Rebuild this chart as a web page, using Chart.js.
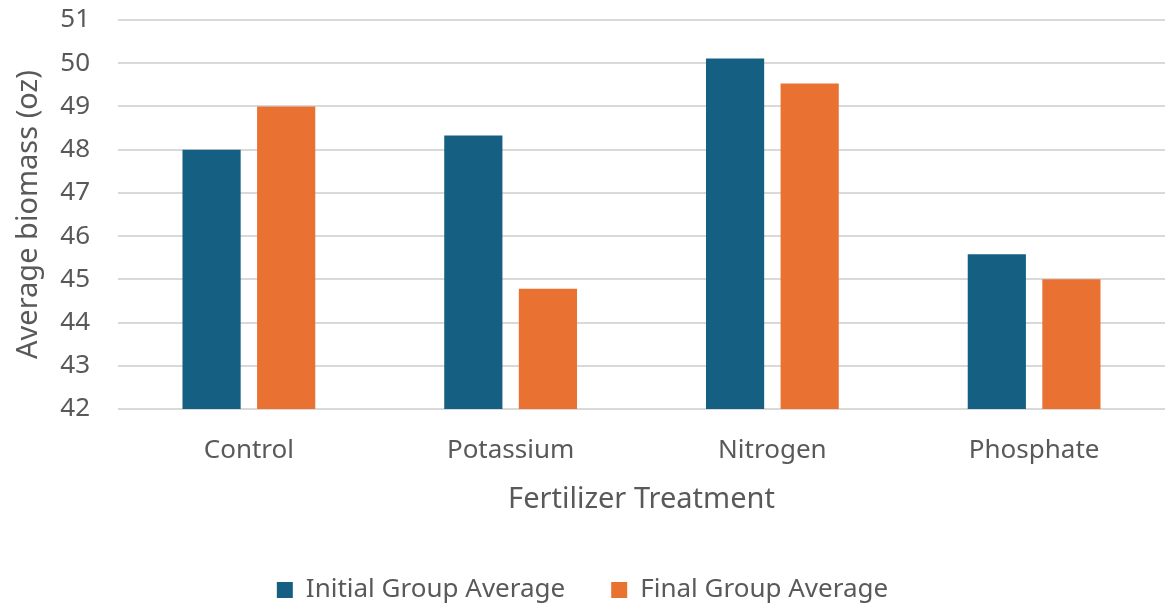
<!DOCTYPE html>
<html>
<head>
<meta charset="utf-8">
<script src="https://cdn.jsdelivr.net/npm/chart.js@4"></script>
<style>
  html, body { margin: 0; padding: 0; background: #ffffff; }
  #wrap { width: 1167px; height: 607px; }
</style>
</head>
<body>
<div id="wrap"><canvas id="chart"></canvas></div>
<script>
// Average biomass per fertilizer treatment, before and after
const treatments = ["Control", "Potassium", "Nitrogen", "Phosphate"];
const initialAverage = [48.0, 48.33, 50.11, 45.58];
const finalAverage = [49.0, 44.78, 49.53, 45.0];
const seriesNames = ["Initial Group Average", "Final Group Average"];
const yTicks = [42, 43, 44, 45, 46, 47, 48, 49, 50, 51];

const textColor = "#595959";
const fontFamily = "'Noto Sans', 'Open Sans', sans-serif";

new Chart(document.getElementById("chart"), {
  type: "bar",
  data: {
    labels: treatments,
    datasets: [
      { label: seriesNames[0], data: initialAverage, backgroundColor: "#156082" },
      { label: seriesNames[1], data: finalAverage, backgroundColor: "#E97132" }
    ]
  },
  options: {
    responsive: true,
    maintainAspectRatio: false,
    animation: false,
    datasets: { bar: { categoryPercentage: 0.57, barPercentage: 0.78 } },
    layout: { padding: { left: 0, right: 2, top: 20, bottom: -6 } },
    plugins: {
      tooltip: { enabled: false },
      legend: {
        position: "bottom",
        labels: {
          color: textColor,
          font: { family: fontFamily, size: 26 },
          boxWidth: 16,
          boxHeight: 16,
          padding: 46
        }
      }
    },
    scales: {
      x: {
        grid: { display: false, drawTicks: false },
        border: { display: false },
        ticks: { color: textColor, font: { family: fontFamily, size: 26 }, padding: 26 },
        title: {
          display: true,
          text: "Fertilizer Treatment",
          color: textColor,
          font: { family: fontFamily, size: 29 },
          padding: { top: 0, bottom: 14 }
        },
        afterFit: (scale) => { scale.height = 122; scale.paddingLeft = 0; scale.paddingRight = 0; }
      },
      y: {
        min: yTicks[0],
        max: yTicks[yTicks.length - 1],
        afterBuildTicks: (scale) => { scale.ticks = yTicks.map(v => ({ value: v })); },
        grid: { color: "#d9d9d9", lineWidth: 2, drawTicks: false },
        border: { display: false },
        ticks: { color: textColor, font: { family: fontFamily, size: 26 }, padding: 28 },
        title: {
          display: true,
          text: "Average biomass (oz)",
          color: textColor,
          font: { family: fontFamily, size: 29 },
          padding: { top: 11, bottom: 0 }
        },
        afterFit: (scale) => { scale.width = 118; scale.paddingTop = 0; scale.paddingBottom = 0; }
      }
    }
  }
});
</script>
</body>
</html>
